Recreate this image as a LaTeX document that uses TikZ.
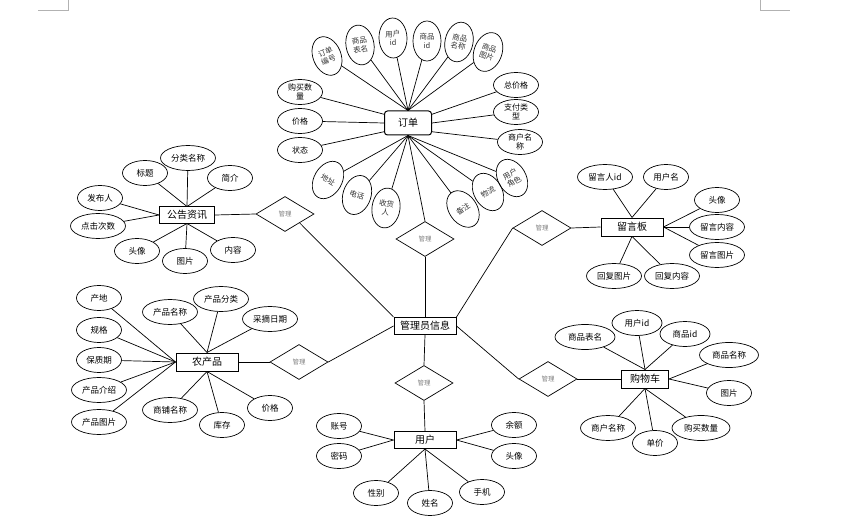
\documentclass[tikz,border=0pt]{standalone}
\usepackage{fontspec}
\setmainfont{Noto Sans CJK SC}
\usetikzlibrary{shapes.geometric}

\begin{document}
\begin{tikzpicture}[x=1pt,y=-1pt,line width=0.7pt,
		ent/.style={draw,line width=1pt,minimum height=18pt,inner sep=1pt,font=\fontsize{10}{11}\selectfont},
		attr/.style={draw,ellipse,minimum width=45pt,minimum height=25pt,inner sep=0pt,align=center,font=\fontsize{8.5}{10}\selectfont},
		wattr/.style={attr,minimum width=55pt},
		rattr/.style={draw,ellipse,minimum width=28pt,minimum height=40pt,inner sep=0pt,align=center,text=black!80,font=\fontsize{7.5}{8.5}\selectfont},
		rel/.style={draw,diamond,minimum width=58pt,minimum height=35pt,inner sep=0pt,text=black!50,font=\fontsize{6.5}{7}\selectfont}]
		\useasboundingbox (0,0) rectangle (860,524);
		\draw[gray!60,line width=0.6pt] (38,10) -- (68,10) -- (68,0);
		\draw[gray!60,line width=0.6pt] (760,0) -- (760,10) -- (790,10);
		% 订单
		\node[ent,rounded corners=3pt,minimum width=47pt,minimum height=24pt] (dd) at (408,123) {订单};
		\node[rattr,rotate=22] (ddbh) at (327,56) {订单\\编号};
		\node[rattr,rotate=10] (spbm) at (360,45) {商品\\表名};
		\node[rattr,rotate=2] (yhid) at (393,38) {用户\\id};
		\node[rattr] (spid) at (427,41) {商品\\id};
		\node[rattr,rotate=-12] (spmc) at (459,42) {商品\\名称};
		\node[rattr,rotate=-20] (sptp) at (488,52) {商品\\图片};
		\node[attr,font=\fontsize{8}{9}\selectfont] (gmsl) at (300,92) {购买数\\量};
		\node[attr,font=\fontsize{8}{9}\selectfont] (jg) at (300,121) {价格};
		\node[attr,font=\fontsize{8}{9}\selectfont] (zt) at (300,150) {状态};
		\node[attr,font=\fontsize{8}{9}\selectfont] (zjg) at (516,85) {总价格};
		\node[attr,font=\fontsize{8}{9}\selectfont] (zflx) at (516,112) {支付类\\型};
		\node[attr,font=\fontsize{8}{9}\selectfont] (shmc) at (520,142) {商户名\\称};
		\node[rattr,rotate=-30] (dz) at (328,180) {地址};
		\node[rattr,rotate=-18] (dh) at (357,195) {电话};
		\node[rattr,rotate=-8] (shr) at (386,208) {收货\\人};
		\node[rattr,rotate=35] (bz) at (463,209) {备注};
		\node[rattr,rotate=30] (wl) at (488,192) {物流};
		\node[rattr,rotate=30] (yhjs) at (512,178) {用户\\角色};
		\draw (ddbh) -- (dd.north);
		\draw (spbm) -- (dd.north);
		\draw (yhid) -- (dd.north);
		\draw (spid) -- (dd.north);
		\draw (spmc) -- (dd.north);
		\draw (sptp) -- (dd.north);
		\draw (gmsl) -- (dd.160);
		\draw (jg) -- (dd.west);
		\draw (zt) -- (dd.200);
		\draw (zjg) -- (dd.20);
		\draw (zflx) -- (dd.east);
		\draw (shmc) -- (dd.340);
		\draw (dz) -- (dd.south);
		\draw (dh) -- (dd.south);
		\draw (shr) -- (dd.south);
		\draw (bz) -- (dd.south);
		\draw (wl) -- (dd.south);
		\draw (yhjs) -- (dd.south);
		% 管理员信息
		\node[ent,minimum width=62pt,minimum height=17pt] (glyxx) at (425,326) {管理员信息};
		\node[rel] (gl2) at (425,239) {管理};
		\draw (dd.south) -- (gl2.north);
		\draw (gl2.south) -- (glyxx.north);
		% 公告资讯
		\node[ent,minimum width=55pt,minimum height=16pt] (ggzx) at (187,215) {公告资讯};
		\node[wattr] (flmc) at (188,158) {分类名称};
		\node[attr] (bt) at (145,173) {标题};
		\node[attr] (jj) at (230,178) {简介};
		\node[attr] (fbr) at (100,198) {发布人};
		\node[wattr] (djcs) at (98,226) {点击次数};
		\node[attr] (tx1) at (137,251) {头像};
		\node[attr] (tp1) at (185,261) {图片};
		\node[attr] (nr) at (233,250) {内容};
		\node[rel] (gl1) at (285,214) {管理};
		\draw (flmc) -- (ggzx.north);
		\draw (bt) -- (ggzx.north);
		\draw (jj) -- (ggzx.north);
		\draw (fbr) -- (ggzx.west);
		\draw (djcs) -- (ggzx.west);
		\draw (tx1) -- (ggzx.south);
		\draw (tp1) -- (ggzx.south);
		\draw (nr) -- (ggzx.south);
		\draw (ggzx.east) -- (gl1.west);
		\draw (gl1.south east) -- (glyxx.north west);
		% 留言板
		\node[ent,minimum width=62pt] (lyb) at (632,227) {留言板};
		\node[wattr] (lyrid) at (605,177) {留言人id};
		\node[attr] (yhm) at (666,177) {用户名};
		\node[attr] (tx2) at (717,200) {头像};
		\node[wattr] (lynr) at (717,227) {留言内容};
		\node[wattr] (lytp) at (717,255) {留言图片};
		\node[wattr] (hftp) at (614,276) {回复图片};
		\node[wattr] (hfnr) at (672,276) {回复内容};
		\node[rel] (gl3) at (542,228) {管理};
		\draw (lyrid) -- (lyb.north);
		\draw (yhm) -- (lyb.north);
		\draw (tx2) -- (lyb.east);
		\draw (lynr) -- (lyb.east);
		\draw (lytp) -- (lyb.east);
		\draw (hftp) -- (lyb.south);
		\draw (hfnr) -- (lyb.south);
		\draw (gl3.east) -- (lyb.west);
		\draw (glyxx.north east) -- (gl3.west);
		% 农产品
		\node[ent,minimum width=62pt] (ncp) at (207,362) {农产品};
		\node[attr] (cd) at (99,298) {产地};
		\node[attr] (gg) at (99,330) {规格};
		\node[attr] (bzq) at (99,360) {保质期};
		\node[wattr] (cpjs) at (99,390) {产品介绍};
		\node[wattr] (cptp) at (99,422) {产品图片};
		\node[wattr] (cpmc) at (170,312) {产品名称};
		\node[wattr] (cpfl) at (221,299) {产品分类};
		\node[wattr] (zzrq) at (270,319) {采摘日期};
		\node[wattr] (dpmc) at (170,410) {商铺名称};
		\node[attr] (kc) at (222,425) {库存};
		\node[attr] (jg2) at (270,408) {价格};
		\node[rel] (gl5) at (299,362) {管理};
		\draw (cd) -- (ncp.west);
		\draw (gg) -- (ncp.west);
		\draw (bzq) -- (ncp.west);
		\draw (cpjs) -- (ncp.west);
		\draw (cptp) -- (ncp.west);
		\draw (cpmc) -- (ncp.north);
		\draw (cpfl) -- (ncp.north);
		\draw (zzrq) -- (ncp.north);
		\draw (dpmc) -- (ncp.south);
		\draw (kc) -- (ncp.south);
		\draw (jg2) -- (ncp.south);
		\draw (ncp.east) -- (gl5.west);
		\draw (gl5.east) -- (glyxx.west);
		% 购物车
		\node[ent,minimum width=47pt] (gwc) at (645,379) {购物车};
		\node[wattr,minimum width=60pt] (spbm2) at (585,337) {商品表名};
		\node[attr,minimum width=50pt] (yhid2) at (637,323) {用户id};
		\node[attr,minimum width=50pt] (spid2) at (685,334) {商品id};
		\node[wattr,minimum width=59pt] (spmc2) at (729,355) {商品名称};
		\node[attr] (tp2) at (729,393) {图片};
		\node[wattr,minimum width=58pt] (gmsl2) at (701,428) {购买数量};
		\node[attr] (dj) at (655,443) {单价};
		\node[wattr] (shmc2) at (608,428) {商户名称};
		\node[rel] (gl4) at (548,379) {管理};
		\draw (spbm2) -- (gwc.north);
		\draw (yhid2) -- (gwc.north);
		\draw (spid2) -- (gwc.north);
		\draw (spmc2) -- (gwc.east);
		\draw (tp2) -- (gwc.east);
		\draw (gmsl2) -- (gwc.south);
		\draw (dj) -- (gwc.south);
		\draw (shmc2) -- (gwc.south);
		\draw (gl4.east) -- (gwc.west);
		\draw (glyxx.east) -- (gl4.west);
		% 用户
		\node[ent,minimum width=62pt,minimum height=17pt] (yh) at (425,440) {用户};
		\node[attr] (zh) at (339,426) {账号};
		\node[attr] (mm) at (339,456) {密码};
		\node[attr] (ye) at (514,425) {余额};
		\node[attr] (tx3) at (514,456) {头像};
		\node[attr] (xb) at (376,493) {性别};
		\node[attr] (xm) at (430,503) {姓名};
		\node[attr] (sj) at (482,492) {手机};
		\node[rel] (gl6) at (424,383) {管理};
		\draw (zh) -- (yh.west);
		\draw (mm) -- (yh.west);
		\draw (ye) -- (yh.east);
		\draw (tx3) -- (yh.east);
		\draw (xb) -- (yh.south);
		\draw (xm) -- (yh.south);
		\draw (sj) -- (yh.south);
		\draw (glyxx.south) -- (gl6.north);
		\draw (gl6.south) -- (yh.north);
\end{tikzpicture}
\end{document}
